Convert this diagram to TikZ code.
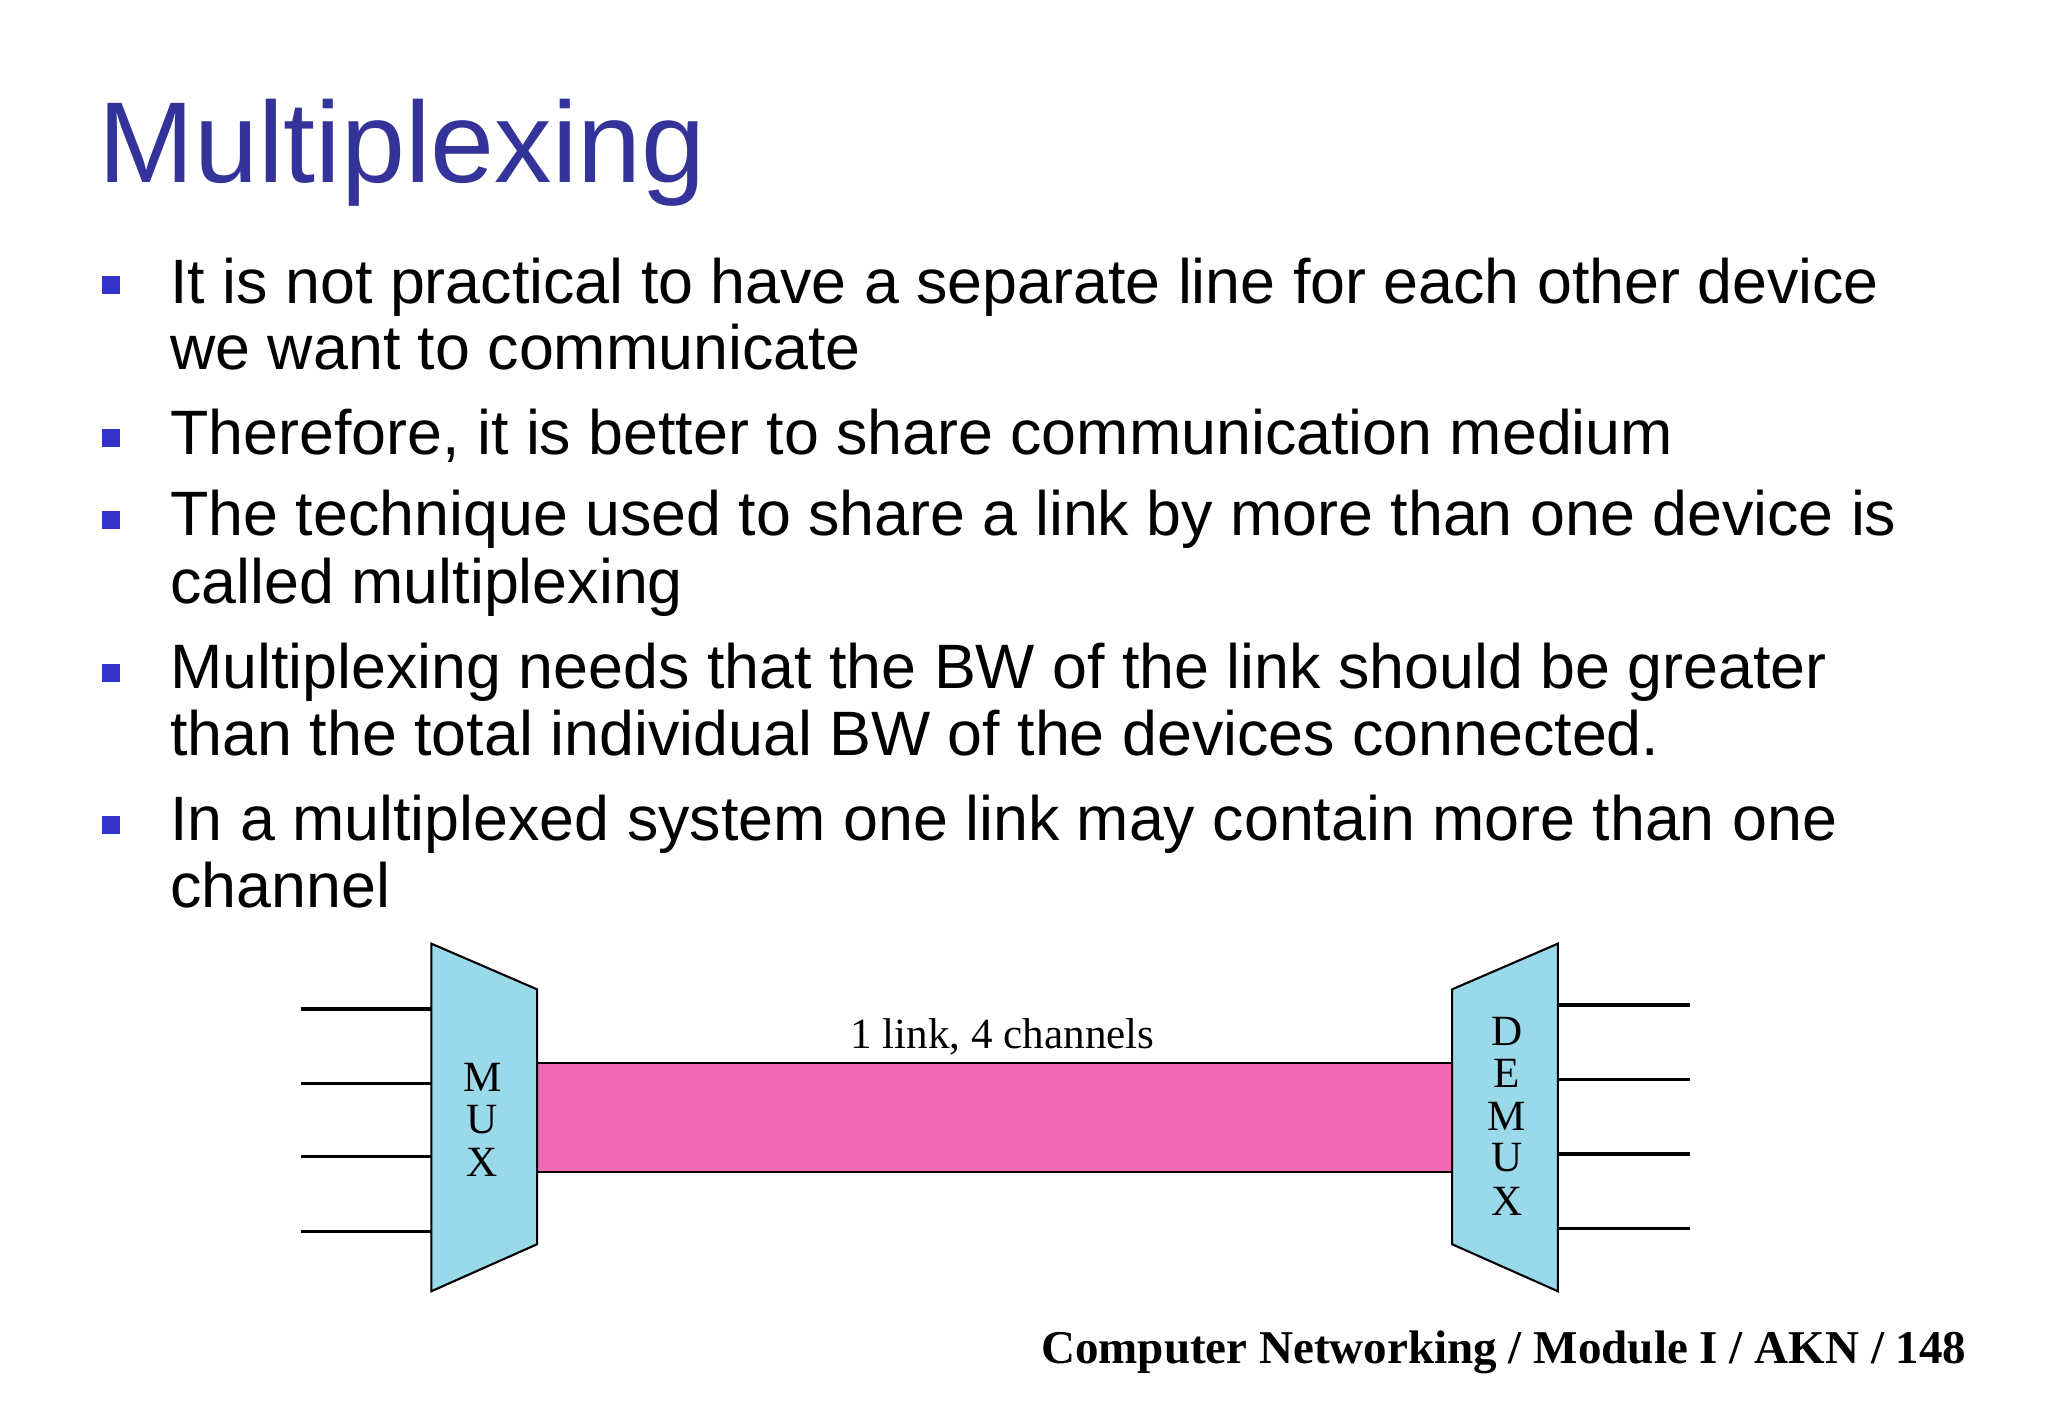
\documentclass[tikz,border=0pt]{standalone}
\usepackage{fontspec}
\setmainfont{Liberation Serif}
\newfontfamily\bodyfont{Liberation Sans}
\definecolor{titleblue}{RGB}{51,51,153}
\definecolor{bulblue}{RGB}{51,51,204}
\definecolor{muxblue}{RGB}{153,217,234}
\definecolor{linkpink}{RGB}{240,106,180}
\begin{document}
\begin{tikzpicture}[x=0.5pt,y=-0.5pt,
  bt/.style={anchor=base west,inner sep=0,font=\bodyfont\fontsize{24}{30}\selectfont},
  bul/.style={fill=bulblue,minimum size=7pt,inner sep=0},
  lt/.style={font=\fontsize{16.5}{18}\selectfont,inner sep=0},
  wire/.style={line width=1.2pt}]
\useasboundingbox (0,0) rectangle (1567,1085);
\node[anchor=base west,inner sep=0,text=titleblue,font=\bodyfont\fontsize{44}{50}\selectfont] (title) at (75,140) {Multiplexing};
\foreach \y/\n in {218/b1,335/b2,398/b3,515/b4,631/b5} \node[bul] (\n) at (85,\y) {};
\node[bt] (t1) at (130,232) {It is not practical to have a separate line for each other device};
\node[bt] (t2) at (130,283) {we want to communicate};
\node[bt] (t3) at (130,348) {Therefore, it is better to share communication medium};
\node[bt] (t4) at (130,410) {The technique used to share a link by more than one device is};
\node[bt] (t5) at (130,462) {called multiplexing};
\node[bt] (t6) at (130,527) {Multiplexing needs that the BW of the link should be greater};
\node[bt] (t7) at (130,578) {than the total individual BW of the devices connected.};
\node[bt] (t8) at (130,643) {In a multiplexed system one link may contain more than one};
\node[bt] (t9) at (130,694) {channel};
% link
\draw[fill=linkpink,line width=0.8pt] (411,813) rectangle (1111,897);
\node[lt] (lab) at (767,793) {1 link, 4 channels};
% mux
\draw[fill=muxblue,line width=0.8pt] (330,722) -- (411,757) -- (411,952) -- (330,988) -- cycle;
\draw[fill=muxblue,line width=0.8pt] (1192,722) -- (1111,757) -- (1111,952) -- (1192,988) -- cycle;
\foreach \y/\c in {824/M,857/U,889/X} \node[lt] at (369,\y) {\c};
\foreach \y/\c in {789/D,821/E,854/M,886/U,919/X} \node[lt] at (1153,\y) {\c};
\foreach \y in {772,829,885,942} \draw[wire] (230,\y) -- (330,\y);
\foreach \y in {769,826,883,940} \draw[wire] (1192,\y) -- (1293,\y);
\node[anchor=base east,inner sep=0,font=\bfseries\fontsize{18}{20}\selectfont] (foot) at (1505,1043) {Computer Networking / Module I / AKN / 148};
\end{tikzpicture}
\end{document}
